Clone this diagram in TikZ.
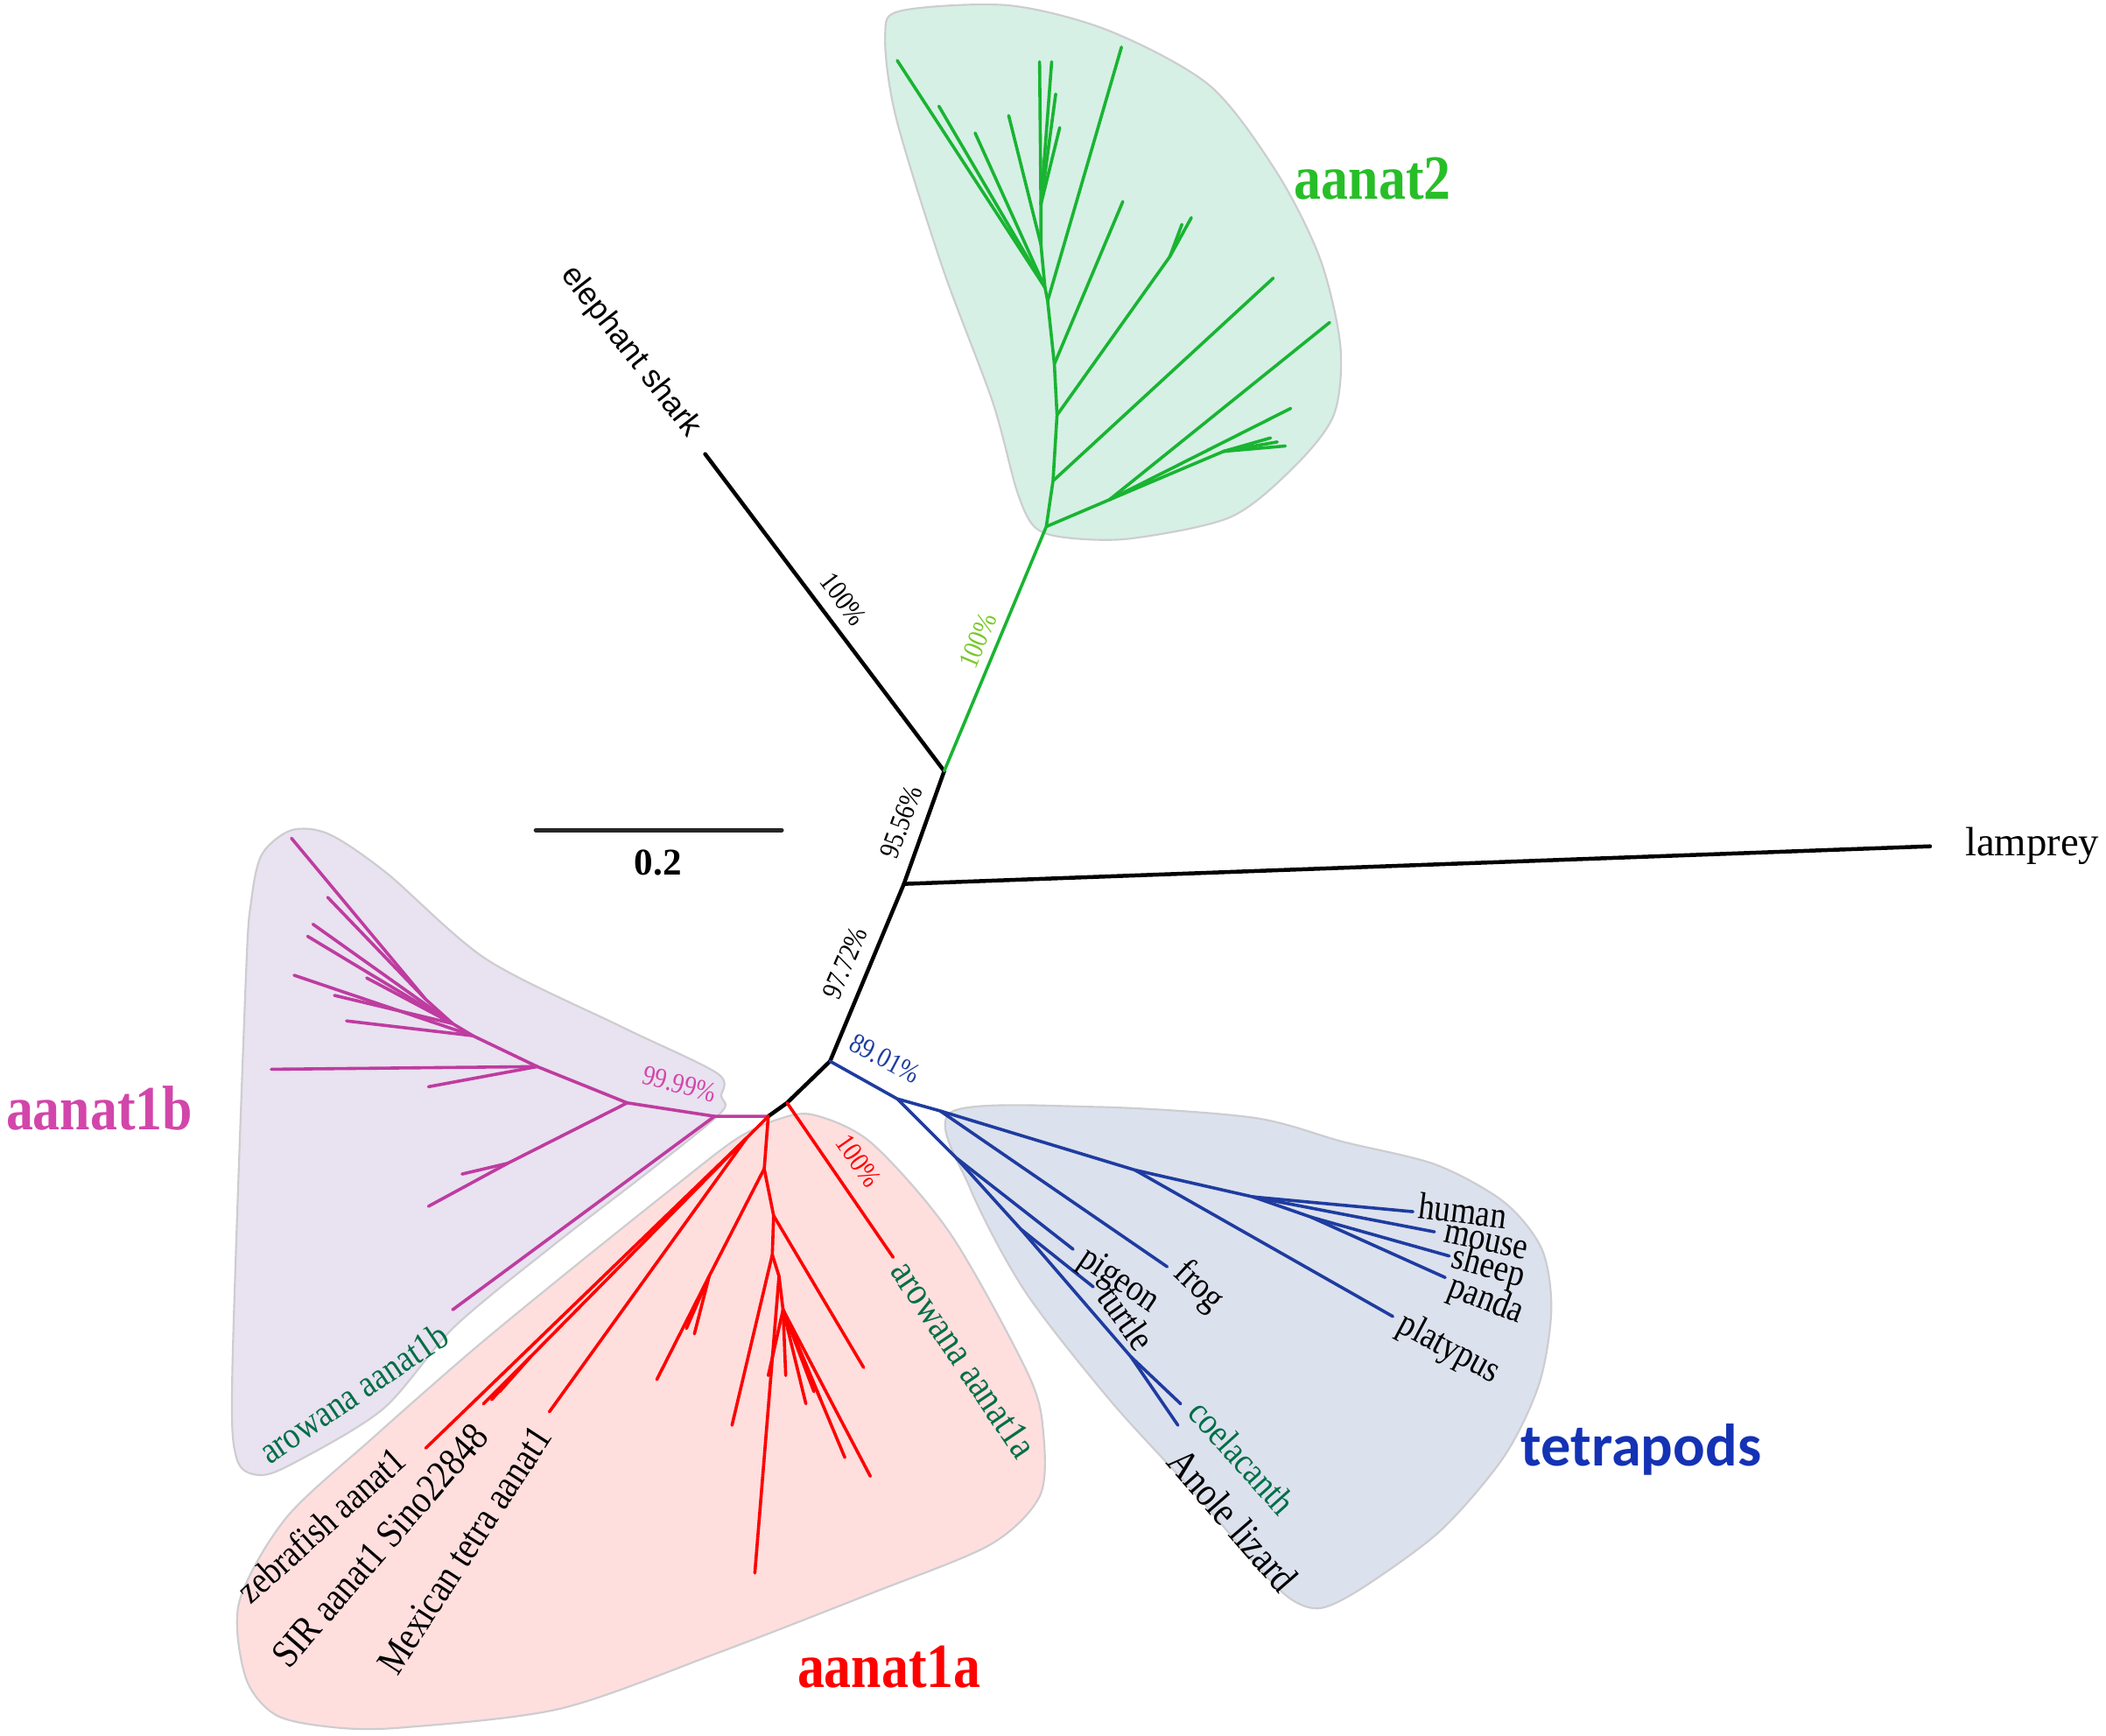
\documentclass[tikz,border=0pt]{standalone}
\usepackage{fontspec}
\setmainfont{Liberation Serif}
\newfontfamily\nserif[FakeStretch=0.86]{Liberation Serif}
\newfontfamily\sansf{Liberation Sans}
\newfontfamily\carlito{Carlito}
\definecolor{cgreen}{RGB}{25,180,50}
\definecolor{lgreen}{RGB}{40,190,40}
\definecolor{bgreen}{RGB}{120,200,40}
\definecolor{dgreen}{RGB}{0,110,70}
\definecolor{cmag}{RGB}{190,60,160}
\definecolor{lmag}{RGB}{210,70,170}
\definecolor{cblue}{RGB}{30,60,160}
\definecolor{lblue}{RGB}{20,50,180}
\definecolor{fgreen}{RGB}{214,240,229}
\definecolor{fmag}{RGB}{233,226,240}
\definecolor{fred}{RGB}{255,222,222}
\definecolor{fblue}{RGB}{220,225,238}
\definecolor{edge}{RGB}{205,205,208}

\begin{document}
\begin{tikzpicture}[x=0.15mm, y=-0.15mm, line cap=round]
\tikzstyle{blob} = [draw=edge, line width=0.6pt];
\tikzstyle{brblack} = [line width=1.25pt, black];
\tikzstyle{brgreen} = [line width=1pt, cgreen];
\tikzstyle{brmag} = [line width=1pt, cmag];
\tikzstyle{brred} = [line width=1pt, red];
\tikzstyle{brblue} = [line width=1pt, cblue];
\tikzstyle{leaf} = [font=\fontsize{12}{14}\selectfont\nserif, inner sep=0pt];
\tikzstyle{bigleaf} = [font=\fontsize{12.6}{14}\selectfont\nserif, inner sep=0pt];
\tikzstyle{boot} = [font=\fontsize{9}{10}\selectfont\nserif, inner sep=0pt];
\tikzstyle{clade} = [font=\fontsize{20}{22}\selectfont\nserif\bfseries, inner sep=0pt];
\useasboundingbox (0,0) rectangle (1568,1292);

\filldraw[blob, fill=fgreen] plot[smooth cycle] coordinates {(671,8) (751,4) (826,23) (901,64) (951,129) (983,193) (998,258) (993,309) (963,348) (916,385) (841,401) (792,400) (770,392) (757,365) (739,299) (702,200) (667,87) (659,26)};
\filldraw[blob, fill=fmag] plot[smooth cycle] coordinates {(217,618) (245,621) (288,650) (362,714) (462,764) (534,799) (537,816) (537,828) (487,869) (412,927) (338,988) (285,1049) (217,1090) (192,1098) (176,1085) (173,1020) (183,729) (187,671) (195,636)};
\filldraw[blob, fill=fred] plot[smooth cycle] coordinates {(580,833) (606,830) (649,851) (708,919) (766,1024) (777,1069) (774,1114) (737,1150) (649,1186) (533,1231) (417,1272) (300,1286) (250,1286) (206,1277) (183,1249) (178,1193) (213,1130) (278,1070) (352,1005) (425,945) (500,885) (548,848)};
\filldraw[blob, fill=fblue] plot[smooth cycle] coordinates {(708,828) (816,824) (933,832) (1000,850) (1069,867) (1120,895) (1148,930) (1155,975) (1146,1030) (1120,1084) (1073,1139) (1016,1181) (984,1197) (962,1191) (937,1167) (890,1112) (827,1043) (763,961) (722,884)};

\coordinate (es) at (525,338);
\coordinate (g) at (703,574);
\coordinate (l) at (673,658);
\coordinate (lp) at (1437,630);
\coordinate (t) at (618,790);
\coordinate (r1) at (586,821);
\coordinate (r) at (572,831);
\draw[brblack] (es) -- (g) -- (l) -- (t) -- (r1) -- (r);
\draw[brblack] (l) -- (lp);

\coordinate (g0) at (779,392);
\coordinate (g1) at (784,358);
\coordinate (g2) at (787,309);
\coordinate (g3) at (785,271);
\coordinate (g4) at (780,224);
\coordinate (g5) at (778,214);
\coordinate (g6) at (775,182);
\coordinate (g7) at (775,152);
\coordinate (gb1) at (826,372);
\coordinate (gb2) at (911,336);
\coordinate (gb3) at (871,191);
\coordinate (gt1) at (946,326);
\coordinate (gt2) at (957,332);
\coordinate (gt3) at (951,329);
\coordinate (gt4) at (990,240);
\coordinate (gt5) at (961,304);
\coordinate (gt6) at (948,207);
\coordinate (gt7) at (887,162);
\coordinate (gt8) at (880,167);
\coordinate (gt9) at (836,150);
\coordinate (gt10) at (835,35);
\coordinate (gt11) at (668,45);
\coordinate (gt12) at (699,79);
\coordinate (gt13) at (726,99);
\coordinate (gt14) at (751,86);
\coordinate (gt15) at (774,46);
\coordinate (gt16) at (783,46);
\coordinate (gt17) at (786,70);
\coordinate (gt18) at (789,95);
\draw[brgreen] (g) -- (g0) -- (g1) -- (g2) -- (g3) -- (g4) -- (g5) -- (g6) -- (g7);
\draw[brgreen] (g0) -- (gb1) -- (gb2) -- (gt1);
\draw[brgreen] (gb2) -- (gt2);
\draw[brgreen] (gb2) -- (gt3);
\draw[brgreen] (gb1) -- (gt4);
\draw[brgreen] (gb1) -- (gt5);
\draw[brgreen] (g1) -- (gt6);
\draw[brgreen] (g2) -- (gb3) -- (gt7);
\draw[brgreen] (gb3) -- (gt8);
\draw[brgreen] (g3) -- (gt9);
\draw[brgreen] (g4) -- (gt10);
\draw[brgreen] (g5) -- (gt11);
\draw[brgreen] (g5) -- (gt12);
\draw[brgreen] (g5) -- (gt13);
\draw[brgreen] (g6) -- (gt14);
\draw[brgreen] (g7) -- (gt15);
\draw[brgreen] (g7) -- (gt16);
\draw[brgreen] (g7) -- (gt17);
\draw[brgreen] (g7) -- (gt18);

\coordinate (m0) at (532,831);
\coordinate (ma) at (467,821);
\coordinate (mb) at (400,794);
\coordinate (md) at (352,771);
\coordinate (me) at (337,762);
\coordinate (mf) at (317,744);
\coordinate (ml) at (378,866);
\coordinate (maw) at (337,975);
\coordinate (mt1) at (319,898);
\coordinate (mt2) at (344,874);
\coordinate (mt3) at (319,809);
\coordinate (mt4) at (202,796);
\coordinate (mt5) at (219,726);
\coordinate (mt6) at (258,760);
\coordinate (mt7) at (273,728);
\coordinate (mt8) at (229,697);
\coordinate (mt9) at (233,688);
\coordinate (mt10) at (249,741);
\coordinate (mt11) at (244,668);
\coordinate (mt12) at (217,624);
\draw[brmag] (r) -- (m0) -- (maw);
\draw[brmag] (m0) -- (ma) -- (ml) -- (mt1);
\draw[brmag] (ml) -- (mt2);
\draw[brmag] (ma) -- (mb) -- (mt3);
\draw[brmag] (mb) -- (mt4);
\draw[brmag] (mb) -- (md) -- (me) -- (mf) -- (mt12);
\draw[brmag] (md) -- (mt5);
\draw[brmag] (md) -- (mt6);
\draw[brmag] (me) -- (mt7);
\draw[brmag] (me) -- (mt8);
\draw[brmag] (me) -- (mt9);
\draw[brmag] (me) -- (mt10);
\draw[brmag] (mf) -- (mt11);

\coordinate (ra) at (556,847);
\coordinate (rs) at (395,1010);
\coordinate (rc) at (569,870);
\coordinate (rd) at (528,950);
\coordinate (re) at (576,905);
\coordinate (rf) at (575,934);
\coordinate (rg) at (580,950);
\coordinate (rh) at (583,975);
\coordinate (raw) at (665,936);
\coordinate (rz) at (317,1078);
\coordinate (rs1) at (360,1045);
\coordinate (rs2) at (366,1042);
\coordinate (rs3) at (372,1036);
\coordinate (rmx) at (409,1051);
\coordinate (rt1) at (489,1027);
\coordinate (rt2) at (517,993);
\coordinate (rt3) at (511,989);
\coordinate (rt4) at (643,1018);
\coordinate (rt5) at (545,1061);
\coordinate (rt6) at (562,1171);
\coordinate (rt7) at (585,1024);
\coordinate (rt8) at (600,1045);
\coordinate (rt9) at (629,1085);
\coordinate (rt10) at (648,1099);
\coordinate (rt11) at (572,1024);
\coordinate (rt12) at (606,1036);
\coordinate (rt13) at (611,1042);
\draw[brred] (r1) -- (raw);
\draw[brred] (r) -- (ra) -- (rz);
\draw[brred] (ra) -- (rs) -- (rs1);
\draw[brred] (rs) -- (rs2);
\draw[brred] (rs) -- (rs3);
\draw[brred] (ra) -- (rmx);
\draw[brred] (r) -- (rc) -- (re) -- (rf) -- (rg) -- (rh);
\draw[brred] (rc) -- (rd) -- (rt1);
\draw[brred] (rd) -- (rt2);
\draw[brred] (rd) -- (rt3);
\draw[brred] (re) -- (rt4);
\draw[brred] (rf) -- (rt5);
\draw[brred] (rg) -- (rt6);
\draw[brred] (rh) -- (rt7);
\draw[brred] (rh) -- (rt8);
\draw[brred] (rh) -- (rt9);
\draw[brred] (rh) -- (rt10);
\draw[brred] (rh) -- (rt11);
\draw[brred] (rh) -- (rt12);
\draw[brred] (rh) -- (rt13);

\coordinate (b0) at (668,818);
\coordinate (b1) at (700,827);
\coordinate (bm) at (845,871);
\coordinate (bh) at (933,891);
\coordinate (bs) at (976,906);
\coordinate (b2) at (712,862);
\coordinate (b3) at (760,915);
\coordinate (b4) at (842,1010);
\coordinate (bhu) at (1052,902);
\coordinate (bmo) at (1068,917);
\coordinate (bsh) at (1079,935);
\coordinate (bpa) at (1076,951);
\coordinate (bpl) at (1037,980);
\coordinate (bfr) at (869,943);
\coordinate (bpi) at (799,930);
\coordinate (btu) at (814,958);
\coordinate (bco) at (879,1045);
\coordinate (ban) at (877,1061);
\draw[brblue] (t) -- (b0) -- (b1) -- (bm) -- (bh) -- (bhu);
\draw[brblue] (bh) -- (bmo);
\draw[brblue] (bh) -- (bs) -- (bsh);
\draw[brblue] (bs) -- (bpa);
\draw[brblue] (bm) -- (bpl);
\draw[brblue] (b1) -- (bfr);
\draw[brblue] (b0) -- (b2) -- (bpi);
\draw[brblue] (b2) -- (b3) -- (btu);
\draw[brblue] (b3) -- (b4) -- (bco);
\draw[brblue] (b4) -- (ban);

\coordinate (sb1) at (399,618);
\coordinate (sb2) at (582,618);
\draw[line width=1.4pt, black!85] (sb1) -- (sb2);
\node[font=\fontsize{12}{14}\selectfont\bfseries] (sbl) at (490,642) {0.2};

\node[font=\fontsize{10}{12}\selectfont\sansf, rotate=-52, anchor=east, inner sep=0pt] (esl) at (517,323) {elephant shark};
\node[font=\fontsize{13}{15}\selectfont] (lpl) at (1513,630) {lamprey};

\node[boot, rotate=-53] (bt1) at (628,446) {100\%};
\node[boot, rotate=70] (bt2) at (671,612) {95.56\%};
\node[boot, rotate=67] (bt3) at (629,717) {97.72\%};
\node[boot, rotate=67, text=bgreen] (bt4) at (728,477) {100\%};
\node[boot, rotate=-28, text=cblue] (bt5) at (659,788) {89.01\%};
\node[boot, rotate=-15, text=lmag] (bt6) at (506,807) {99.99\%};
\node[boot, rotate=-55, text=red] (bt7) at (639,864) {100\%};

\node[leaf, rotate=34, anchor=east, text=dgreen] (l1b) at (331,991) {arowana aanat1b};
\node[leaf, rotate=42, anchor=east] (lzf) at (298,1082) {zebrafish aanat1};
\node[bigleaf, rotate=49, anchor=east] (lsir) at (358,1064) {SIR aanat1 Sino22848};
\node[bigleaf, rotate=57, anchor=east] (lmx) at (404,1064) {Mexican tetra aanat1};
\node[bigleaf, rotate=-56, anchor=west, text=dgreen] (l1a) at (670,941) {arowana aanat1a};
\node[leaf, rotate=-7, anchor=west] (lhu) at (1056,897) {human};
\node[leaf, rotate=-12, anchor=west] (lmo) at (1075,918) {mouse};
\node[leaf, rotate=-15, anchor=west] (lsh) at (1081,937) {sheep};
\node[leaf, rotate=-21, anchor=west] (lpa) at (1079,958) {panda};
\node[leaf, rotate=-28, anchor=west] (lpl2) at (1042,985) {platypus};
\node[leaf, rotate=-43, anchor=west] (lfr) at (877,944) {frog};
\node[leaf, rotate=-34, anchor=west] (lpi) at (805,935) {pigeon};
\node[leaf, rotate=-55, anchor=west] (ltu) at (824,960) {turtle};
\node[leaf, rotate=-48, anchor=west, text=dgreen] (lco) at (890,1046) {coelacanth};
\node[font=\fontsize{13}{15}\selectfont\nserif, inner sep=0pt, rotate=-49, anchor=west] (lan) at (875,1082) {Anole lizard};

\node[clade, text=lgreen] (n2) at (1022,133) {aanat2};
\node[clade, text=lmag] (n1b) at (74,825) {aanat1b};
\node[clade, text=red] (n1a) at (662,1241) {aanat1a};
\node[font=\fontsize{19}{21}\selectfont\carlito\bfseries, text=lblue, inner sep=0pt] (tp) at (1222,1079) {tetrapods};
\end{tikzpicture}
\end{document}
